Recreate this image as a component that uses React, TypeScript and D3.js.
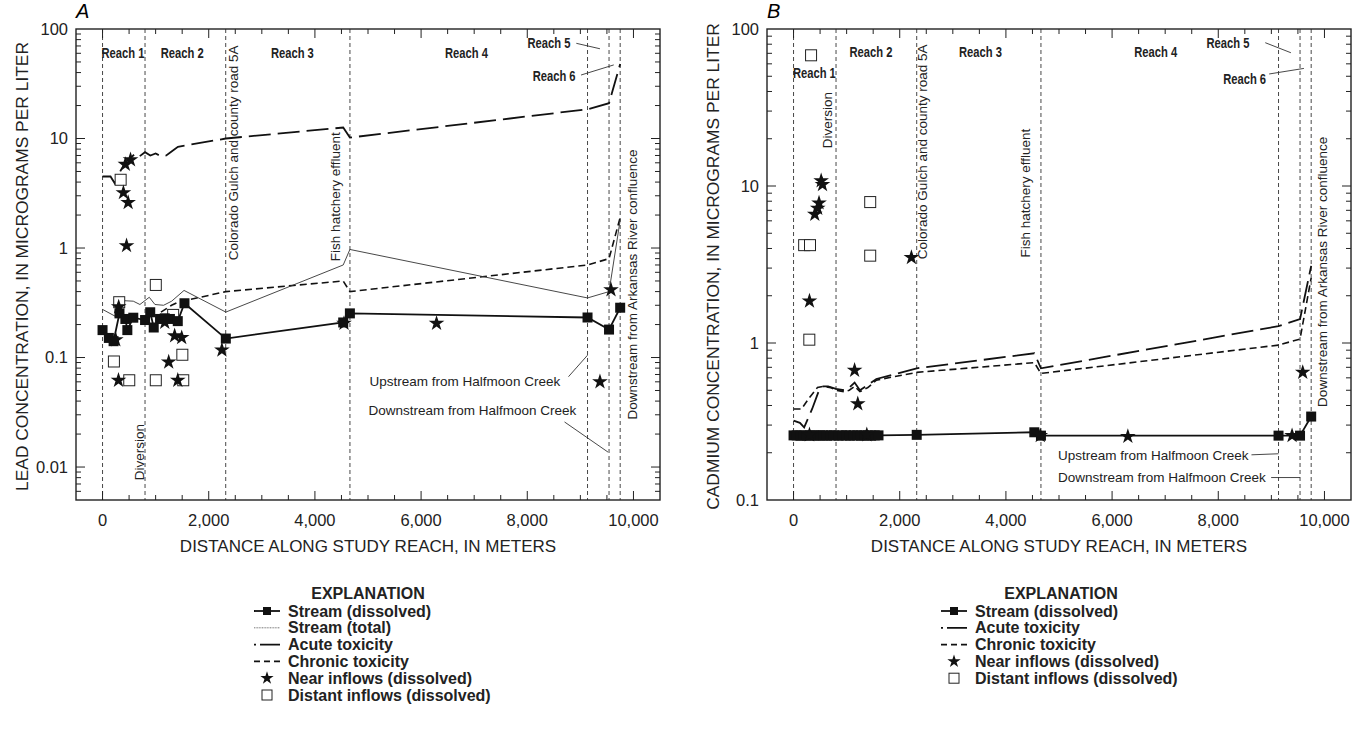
import * as d3 from 'd3';

type Pt = [number, number];

// distance along the study reach, meters
const distanceDomain: [number, number] = [-500, 10500];
const distanceMajor = [0, 2000, 4000, 6000, 8000, 10000];
const reachBreaks = [0, 800, 2320, 4660, 9135, 9540, 9750];

// ---------- A: lead ----------
const leadTicks = [100, 10, 1, 0.1, 0.01];

const leadStreamDissolved: Pt[] = [
  [0, 0.178], [119, 0.151], [208, 0.141], [319, 0.253], [430, 0.225], [467, 0.178],
  [579, 0.231], [801, 0.22], [898, 0.259], [964, 0.188], [1083, 0.225], [1172, 0.228],
  [1269, 0.225], [1417, 0.215], [1543, 0.313], [2322, 0.149], [4533, 0.209],
  [4659, 0.253], [9135, 0.232], [9540, 0.18], [9750, 0.285],
];

const leadStreamTotal: Pt[] = [
  [0, 0.275], [233, 0.239], [421, 0.33], [579, 0.327], [704, 0.305], [880, 0.355],
  [987, 0.305], [1150, 0.3], [1302, 0.327], [1535, 0.41], [2322, 0.26], [4533, 0.7],
  [4659, 0.97], [9135, 0.35], [9540, 0.4], [9750, 1.8],
];

const leadAcute: Pt[] = [
  [0, 4.5], [150, 4.5], [230, 3.9], [350, 5.2], [450, 6.2], [550, 6.8], [620, 7.3],
  [700, 6.9], [800, 7.5], [900, 7.0], [1000, 7.3], [1100, 6.9], [1200, 7.0],
  [1300, 7.6], [1420, 8.4], [2322, 10], [4533, 12.6], [4659, 10.2], [9135, 18.5],
  [9540, 21], [9750, 48],
];

const leadChronic: Pt[] = [
  [1100, 0.26], [1300, 0.3], [1420, 0.32], [2322, 0.4], [4533, 0.5], [4659, 0.4],
  [9135, 0.7], [9540, 0.8], [9750, 1.9],
];

const leadNear: Pt[] = [
  [430, 5.8], [527, 6.4], [393, 3.2], [482, 2.6], [452, 1.05], [304, 0.29],
  [250, 0.145], [300, 0.062], [1172, 0.21], [1358, 0.158], [1491, 0.152],
  [1246, 0.091], [1417, 0.062], [2248, 0.117], [4548, 0.205], [6291, 0.205],
  [9369, 0.06], [9577, 0.415],
];

const leadDistant: Pt[] = [
  [341, 4.2], [314, 0.32], [214, 0.092], [503, 0.062], [1003, 0.46], [1003, 0.062],
  [1503, 0.106], [1520, 0.062], [1330, 0.245],
];

// ---------- B: cadmium ----------
const cadmiumTicks = [100, 10, 1, 0.1];

const cadmiumStreamDissolved: Pt[] = [
  [0, 0.258], [60, 0.258], [130, 0.257], [190, 0.258], [250, 0.257], [310, 0.258],
  [380, 0.258], [440, 0.257], [500, 0.258], [560, 0.258], [630, 0.257], [700, 0.258],
  [760, 0.258], [850, 0.257], [920, 0.258], [990, 0.258], [1060, 0.257], [1130, 0.258],
  [1200, 0.258], [1270, 0.257], [1330, 0.258], [1400, 0.258], [1460, 0.257],
  [1530, 0.258], [1600, 0.258], [2320, 0.26], [4535, 0.27], [4660, 0.257],
  [9135, 0.257], [9540, 0.257], [9750, 0.34],
];

const cadmiumAcute: Pt[] = [
  [0, 0.32], [120, 0.31], [200, 0.29], [350, 0.38], [480, 0.5], [560, 0.53],
  [650, 0.53], [800, 0.51], [950, 0.5], [1050, 0.52], [1150, 0.56], [1250, 0.5],
  [1400, 0.54], [1560, 0.59], [2320, 0.69], [4535, 0.86], [4660, 0.69],
  [9135, 1.28], [9540, 1.42], [9750, 3.1],
];

const cadmiumChronic: Pt[] = [
  [0, 0.38], [150, 0.38], [280, 0.44], [450, 0.52], [560, 0.53], [700, 0.52],
  [800, 0.5], [950, 0.49], [1050, 0.5], [1150, 0.53], [1250, 0.49], [1400, 0.52],
  [1560, 0.58], [2320, 0.65], [4535, 0.75], [4660, 0.64], [9135, 0.97],
  [9540, 1.06], [9750, 2.6],
];

const cadmiumNear: Pt[] = [
  [520, 10.8], [545, 10.2], [480, 7.8], [455, 7.2], [400, 6.6], [300, 1.85],
  [2220, 3.5], [1150, 0.67], [1210, 0.41], [300, 0.26], [1380, 0.26],
  [4647, 0.257], [6297, 0.254], [9390, 0.257], [9591, 0.65],
];

const cadmiumDistant: Pt[] = [
  [330, 68], [200, 4.2], [310, 4.2], [297, 1.05], [1444, 7.9], [1444, 3.6],
];

// ---------- labels ----------
const reachLabels = ['Reach 1', 'Reach 2', 'Reach 3', 'Reach 4', 'Reach 5', 'Reach 6'];
const legendA = ['Stream (dissolved)', 'Stream (total)', 'Acute toxicity', 'Chronic toxicity',
  'Near inflows (dissolved)', 'Distant inflows (dissolved)'];
const legendB = ['Stream (dissolved)', 'Acute toxicity', 'Chronic toxicity',
  'Near inflows (dissolved)', 'Distant inflows (dissolved)'];

const SANS = "'Liberation Sans', Arial, sans-serif";

type Note = { text: string; at: Pt; anchor?: 'start' | 'middle' | 'end'; rotate?: boolean; bold?: boolean; leader?: [Pt, Pt] };

interface PanelProps {
  left: number; top: number; w: number; h: number;
  letter: string;
  yTitle: string;
  yDomain: [number, number];
  yTicks: number[];
  total?: Pt[];
  stream: Pt[]; acute: Pt[]; chronic: Pt[]; near: Pt[]; distant: Pt[];
  notes: Note[];
}

const starPath = d3.symbol(d3.symbolStar, 76)()!;

function Panel(p: PanelProps) {
  const x = d3.scaleLinear().domain(distanceDomain).range([p.left, p.left + p.w]);
  const y = d3.scaleLog().domain(p.yDomain).range([p.top + p.h, p.top]);
  const line = d3.line<Pt>().x(d => x(d[0])).y(d => y(d[1]));
  const bottom = p.top + p.h, right = p.left + p.w;

  const yAll = y.ticks().filter(v => v > p.yDomain[0] * 1.0001 && v < p.yDomain[1] * 0.9999);
  const isMajor = (v: number) => p.yTicks.some(t => Math.abs(t - v) / t < 1e-6);
  const xMinor = d3.range(-500, 10501, 500).filter(v => v > -500 && v < 10500);

  return (
    <g>
      <text x={p.left} y={18} fontFamily={SANS} fontStyle="italic" fontSize={20}>{p.letter}</text>

      {/* reach boundaries */}
      {reachBreaks.map((b, i) => (
        <line key={'rb' + i} x1={x(b)} x2={x(b)} y1={p.top} y2={bottom}
          stroke="#333" strokeWidth={0.9} strokeDasharray="4,3" />
      ))}

      {/* toxicity lines */}
      <path d={line(p.acute)!} fill="none" stroke="#111" strokeWidth={1.8} strokeDasharray="22,7" />
      <path d={line(p.chronic)!} fill="none" stroke="#111" strokeWidth={1.6} strokeDasharray="7,4" />
      {p.total && <path d={line(p.total)!} fill="none" stroke="#333" strokeWidth={0.9} />}
      <path d={line(p.stream)!} fill="none" stroke="#111" strokeWidth={1.8} />

      {p.distant.map((d, i) => (
        <rect key={'ds' + i} x={x(d[0]) - 5.5} y={y(d[1]) - 5.5} width={11} height={11}
          fill="#fff" stroke="#222" strokeWidth={1} />
      ))}
      {p.stream.map((d, i) => (
        <rect key={'ss' + i} x={x(d[0]) - 5} y={y(d[1]) - 5} width={10} height={10} fill="#111" />
      ))}
      {p.near.map((d, i) => (
        <path key={'st' + i} d={starPath} transform={`translate(${x(d[0])},${y(d[1])})`} fill="#111" />
      ))}

      {/* annotations */}
      {p.notes.map((n, i) => {
        const px = x(n.at[0]), py = y(n.at[1]);
        const tf = n.rotate ? `translate(${px},${py}) rotate(-90)`
          : n.bold ? `translate(${px},${py}) scale(0.8,1)` : `translate(${px},${py})`;
        return (
          <g key={'n' + i}>
            {n.leader && (
              <line x1={x(n.leader[0][0])} y1={y(n.leader[0][1])} x2={x(n.leader[1][0])} y2={y(n.leader[1][1])}
                stroke="#333" strokeWidth={0.9} />
            )}
            <text transform={tf} dy="0.35em" textAnchor={n.anchor ?? 'middle'}
              fontFamily={SANS} fontWeight={n.bold ? 'bold' : 'normal'}
              fontSize={n.bold ? 14 : 13.5} fill="#222">{n.text}</text>
          </g>
        );
      })}

      {/* frame and ticks */}
      <rect x={p.left} y={p.top} width={p.w} height={p.h} fill="none" stroke="#222" strokeWidth={1.4} />
      {yAll.map((v, i) => {
        const len = isMajor(v) ? 9 : 5;
        return (
          <g key={'yt' + i}>
            <line x1={p.left} x2={p.left + len} y1={y(v)} y2={y(v)} stroke="#222" strokeWidth={1} />
            <line x1={right} x2={right - len} y1={y(v)} y2={y(v)} stroke="#222" strokeWidth={1} />
          </g>
        );
      })}
      {p.yTicks.map((v, i) => (
        <text key={'yl' + i} x={p.left - 8} y={y(v)} dy="0.36em" textAnchor="end"
          fontFamily={SANS} fontSize={16.5} fill="#222">{String(v)}</text>
      ))}
      {xMinor.map((v, i) => {
        const len = v % 2000 === 0 ? 9 : 5;
        return (
          <g key={'xt' + i}>
            <line x1={x(v)} x2={x(v)} y1={bottom} y2={bottom - len} stroke="#222" strokeWidth={1} />
            <line x1={x(v)} x2={x(v)} y1={p.top} y2={p.top + len} stroke="#222" strokeWidth={1} />
          </g>
        );
      })}
      {distanceMajor.map((v, i) => (
        <text key={'xl' + i} x={x(v)} y={bottom + 26} textAnchor="middle"
          fontFamily={SANS} fontSize={16.5} fill="#222">{d3.format(',')(v)}</text>
      ))}
      <text x={(p.left + right) / 2} y={bottom + 52} textAnchor="middle" fontFamily={SANS}
        fontSize={17} fill="#222">DISTANCE ALONG STUDY REACH, IN METERS</text>
      <text transform={`translate(${p.left - 48},${p.top + p.h / 2 + 2}) rotate(-90)`} textAnchor="middle"
        fontFamily={SANS} fontSize={17.4} fill="#222">{p.yTitle}</text>
    </g>
  );
}

type LegendKind = 'stream' | 'total' | 'acute' | 'chronic' | 'near' | 'distant';

function Legend({ cx, x0, items, kinds }: { cx: number; x0: number; items: string[]; kinds: LegendKind[] }) {
  const rowY = (i: number) => 611 + i * 16.8;
  return (
    <g fontFamily={SANS} fontWeight="bold" fontSize={16} fill="#222">
      <text x={cx} y={599} textAnchor="middle">EXPLANATION</text>
      {items.map((label, i) => {
        const yy = rowY(i), k = kinds[i], mid = x0 + 13;
        return (
          <g key={i}>
            {k === 'stream' && (<>
              <line x1={x0} x2={x0 + 26} y1={yy} y2={yy} stroke="#111" strokeWidth={1.8} />
              <rect x={mid - 4} y={yy - 4} width={8} height={8} fill="#111" />
            </>)}
            {k === 'total' && <line x1={x0} x2={x0 + 26} y1={yy} y2={yy} stroke="#555" strokeWidth={0.8} strokeDasharray="1,0.6" />}
            {k === 'acute' && <line x1={x0} x2={x0 + 26} y1={yy} y2={yy} stroke="#111" strokeWidth={1.8} strokeDasharray="2,4,20" />}
            {k === 'chronic' && <line x1={x0} x2={x0 + 26} y1={yy} y2={yy} stroke="#111" strokeWidth={1.6} strokeDasharray="6,4" />}
            {k === 'near' && <path d={starPath} transform={`translate(${mid},${yy}) scale(0.85)`} fill="#111" />}
            {k === 'distant' && <rect x={mid - 5} y={yy - 5} width={10} height={10} fill="#fff" stroke="#222" />}
            <text x={x0 + 34} y={yy + 5.5}>{label}</text>
          </g>
        );
      })}
    </g>
  );
}

const notesA: Note[] = [
  { text: reachLabels[0], at: [385, 60], bold: true },
  { text: reachLabels[1], at: [1500, 60], bold: true },
  { text: reachLabels[2], at: [3575, 60], bold: true },
  { text: reachLabels[3], at: [6855, 60], bold: true },
  { text: reachLabels[4], at: [8813, 74.5], bold: true, anchor: 'end', leader: [[8924, 74], [9369, 66]] },
  { text: reachLabels[5], at: [8910, 37], bold: true, anchor: 'end', leader: [[9013, 38], [9629, 47]] },
  { text: 'Colorado Gulch and county road 5A', at: [2470, 7.4], rotate: true },
  { text: 'Fish hatchery effluent', at: [4390, 2.94], rotate: true },
  { text: 'Diversion', at: [690, 0.0137], rotate: true },
  { text: 'Downstream from Arkansas River confluence', at: [9980, 0.465], rotate: true },
  { text: 'Upstream from Halfmoon Creek', at: [5030, 0.0605], anchor: 'start', leader: [[8776, 0.0668], [9135, 0.105]] },
  { text: 'Downstream from Halfmoon Creek', at: [5008, 0.0332], anchor: 'start', leader: [[8702, 0.0258], [9520, 0.0137]] },
];

const notesB: Note[] = [
  { text: reachLabels[0], at: [392, 52], bold: true },
  { text: reachLabels[1], at: [1457, 71.7], bold: true },
  { text: reachLabels[2], at: [3520, 71.7], bold: true },
  { text: reachLabels[3], at: [6822, 71.7], bold: true },
  { text: reachLabels[4], at: [8587, 81.8], bold: true, anchor: 'end', leader: [[8885, 81.8], [9368, 70.6]] },
  { text: reachLabels[5], at: [8900, 48], bold: true, anchor: 'end', leader: [[8959, 51.7], [9613, 56.1]] },
  { text: 'Diversion', at: [632, 26.3], rotate: true },
  { text: 'Colorado Gulch and county road 5A', at: [2420, 16.5], rotate: true },
  { text: 'Fish hatchery effluent', at: [4364, 9.0], rotate: true },
  { text: 'Downstream from Arkansas River confluence', at: [9963, 2.84], rotate: true },
  { text: 'Upstream from Halfmoon Creek', at: [4981, 0.194], anchor: 'start', leader: [[8625, 0.194], [9135, 0.197]] },
  { text: 'Downstream from Halfmoon Creek', at: [4981, 0.139], anchor: 'start', leader: [[8996, 0.139], [9540, 0.139]] },
];

export default function App() {
  return (
    <svg width={1367} height={742} style={{ position: 'absolute', left: 0, top: 0, background: '#fff' }}>
      <Panel left={76} top={29} w={584} h={471} letter="A"
        yTitle="LEAD CONCENTRATION, IN MICROGRAMS PER LITER"
        yDomain={[0.005, 100]} yTicks={leadTicks}
        total={leadStreamTotal} stream={leadStreamDissolved} acute={leadAcute}
        chronic={leadChronic} near={leadNear} distant={leadDistant} notes={notesA} />
      <Panel left={767} top={29} w={584} h={471} letter="B"
        yTitle="CADMIUM CONCENTRATION, IN MICROGRAMS PER LITER"
        yDomain={[0.1, 100]} yTicks={cadmiumTicks}
        stream={cadmiumStreamDissolved} acute={cadmiumAcute}
        chronic={cadmiumChronic} near={cadmiumNear} distant={cadmiumDistant} notes={notesB} />
      <Legend cx={368} x0={254} items={legendA}
        kinds={['stream', 'total', 'acute', 'chronic', 'near', 'distant']} />
      <Legend cx={1061} x0={941} items={legendB}
        kinds={['stream', 'acute', 'chronic', 'near', 'distant']} />
    </svg>
  );
}
